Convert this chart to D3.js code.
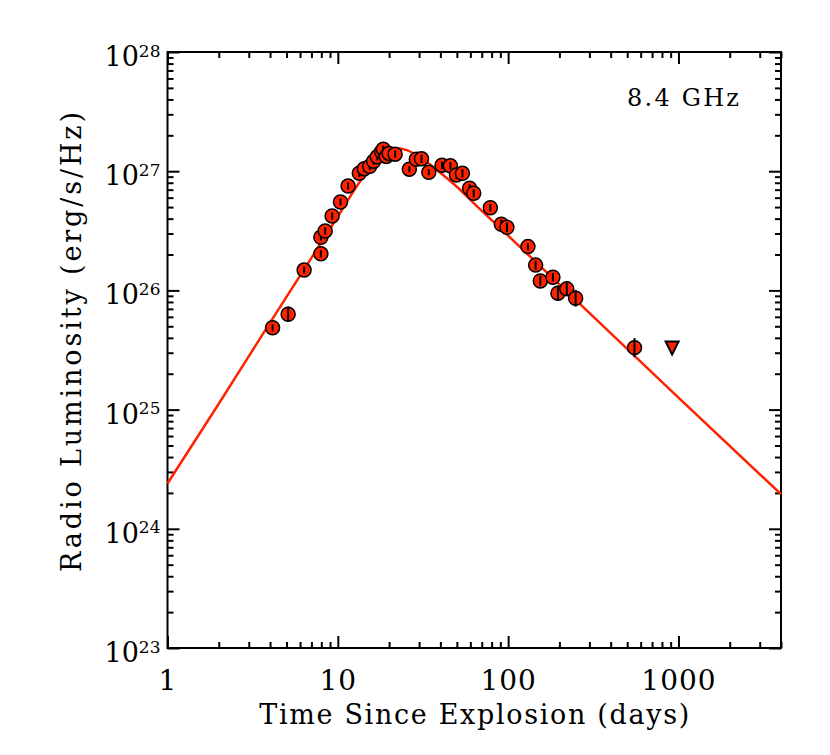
<!DOCTYPE html>
<html>
<head>
<meta charset="utf-8">
<script src="https://cdn.jsdelivr.net/npm/d3@7"></script>
<style>
  body { margin: 0; background: #fff; }
  text { font-family: "DejaVu Serif", serif; fill: #000; }
</style>
</head>
<body>
<div id="chart"></div>
<script>
// observations at 8.4 GHz (days since explosion, erg/s/Hz, error in dex)
var obsDays = [4.14, 5.11, 6.34, 7.95, 7.95, 8.43, 9.26, 10.37, 11.49, 13.37,
  14.30, 15.40, 16.22, 17.05, 18.04, 18.49, 19.25, 20.0, 21.7, 26.3,
  28.9, 31.0, 34.2, 40.9, 45.8, 49.7, 53.9, 59.4, 62.8, 78.6,
  91.2, 98.4, 130.7, 145, 154.5, 183.2, 196, 221, 249, 552];
var obsLum = [4.86e25, 6.31e25, 1.48e26, 2.03e26, 2.79e26, 3.15e26, 4.21e26, 5.52e26, 7.51e26, 9.61e26,
  1.05e27, 1.10e27, 1.21e27, 1.32e27, 1.46e27, 1.53e27, 1.33e27, 1.41e27, 1.39e27, 1.04e27,
  1.26e27, 1.27e27, 9.79e26, 1.12e27, 1.11e27, 9.3e26, 9.6e26, 7.19e26, 6.53e26, 4.94e26,
  3.59e26, 3.38e26, 2.33e26, 1.63e26, 1.20e26, 1.29e26, 9.46e25, 1.03e26, 8.59e25, 3.31e25];
var obsErr = [0.03, 0.065, 0.03, 0.03, 0.03, 0.03, 0.03, 0.03, 0.03, 0.03,
  0.03, 0.03, 0.03, 0.03, 0.03, 0.03, 0.03, 0.03, 0.03, 0.025,
  0.03, 0.035, 0.025, 0.03, 0.03, 0.035, 0.035, 0.035, 0.035, 0.03,
  0.04, 0.04, 0.03, 0.04, 0.045, 0.035, 0.065, 0.05, 0.07, 0.08];

// upper limit
var limDays = [918];
var limLum = [3.42e25];

// model light curve
var modelDays = [1, 2, 4, 6.3, 10, 12.6, 15.8, 17.8, 20, 22.4, 25.1, 31.6, 39.8, 50, 63, 100, 316, 1000, 4000];
var modelLum = [2.40e24, 1.12e25, 5.37e25, 1.48e26, 4.17e26, 7.08e26, 1.12e27, 1.35e27, 1.48e27, 1.55e27,
  1.51e27, 1.26e27, 9.77e26, 7.41e26, 5.37e26, 2.88e26, 6.03e25, 1.26e25, 1.95e24];

var xMajor = [1, 10, 100, 1000];
var xTickLabels = ["1", "10", "100", "1000"];
var yMajor = [1e23, 1e24, 1e25, 1e26, 1e27, 1e28];
var yTickExps = ["23", "24", "25", "26", "27", "28"];

var svgWidth = 830;
var svgHeight = 755;
var margin = {top: 52, right: 49, bottom: 107, left: 167.5};
var width = svgWidth - margin.left - margin.right;
var height = svgHeight - margin.top - margin.bottom;

var red = "#ff2200";

var svg = d3.select("#chart").append("svg")
  .attr("width", svgWidth)
  .attr("height", svgHeight);

var g = svg.append("g")
  .attr("transform", `translate(${margin.left}, ${margin.top})`);

var x = d3.scaleLog().domain([1, 4000]).range([0, width]);
var y = d3.scaleLog().domain([1e23, 1e28]).range([height, 0]);

var xMinor = x.ticks().filter(d => xMajor.indexOf(d) < 0);
var yMinor = y.ticks().filter(d => yMajor.indexOf(d) < 0);

function drawAxis(axisFn, scale, values, size, tr) {
  var a = g.append("g")
    .attr("transform", tr)
    .call(axisFn(scale).tickValues(values).tickSize(-size).tickFormat(""));
  a.select(".domain").remove();
  a.selectAll(".tick line").attr("stroke", "#000").attr("stroke-width", 2);
  return a;
}

// minor ticks on all four sides
drawAxis(d3.axisBottom, x, xMinor, 6, `translate(0,${height})`);
drawAxis(d3.axisTop, x, xMinor, 6, "translate(0,0)");
drawAxis(d3.axisLeft, y, yMinor, 6, "translate(0,0)");
drawAxis(d3.axisRight, y, yMinor, 6, `translate(${width},0)`);
drawAxis(d3.axisTop, x, xMajor, 12, "translate(0,0)");
drawAxis(d3.axisRight, y, yMajor, 12, `translate(${width},0)`);

// labelled axes
var bottom = g.append("g")
  .attr("transform", `translate(0,${height})`)
  .call(d3.axisBottom(x).tickValues(xMajor).tickSize(-12).tickPadding(22)
    .tickFormat((d, i) => xTickLabels[i]));
bottom.select(".domain").remove();
bottom.selectAll(".tick line").attr("stroke", "#000").attr("stroke-width", 2);
bottom.selectAll(".tick text")
  .attr("font-size", 28)
  .attr("font-family", "DejaVu Serif")
  .attr("fill", "#000")
  .style("letter-spacing", "1px");

var left = g.append("g")
  .call(d3.axisLeft(y).tickValues(yMajor).tickSize(-12).tickPadding(7).tickFormat(""));
left.select(".domain").remove();
left.selectAll(".tick line").attr("stroke", "#000").attr("stroke-width", 2);
left.selectAll(".tick text").each(function(d, i) {
  var t = d3.select(this)
    .attr("font-size", 27)
    .attr("font-family", "DejaVu Serif")
    .attr("fill", "#000")
    .attr("dy", "0.5em");
  t.append("tspan").text("10");
  t.append("tspan").attr("dy", "-0.55em").attr("font-size", 17).text(yTickExps[i]);
});

// frame
g.append("rect")
  .attr("width", width)
  .attr("height", height)
  .attr("fill", "none")
  .attr("stroke", "#000")
  .attr("stroke-width", 2);

// model curve
var line = d3.line()
  .x(d => x(d[0]))
  .y(d => y(d[1]))
  .curve(d3.curveMonotoneX);

g.append("path")
  .datum(modelDays.map((d, i) => [d, modelLum[i]]))
  .attr("d", line)
  .attr("fill", "none")
  .attr("stroke", red)
  .attr("stroke-width", 2.5);

// data points with error bars
var pts = g.selectAll(".pt")
  .data(obsDays.map((d, i) => ({t: d, L: obsLum[i], e: obsErr[i]})))
  .enter()
  .append("g")
  .attr("class", "pt");

pts.append("circle")
  .attr("cx", d => x(d.t))
  .attr("cy", d => y(d.L))
  .attr("r", 7)
  .attr("fill", red)
  .attr("stroke", "#000")
  .attr("stroke-width", 1.5);

pts.append("line")
  .attr("x1", d => x(d.t))
  .attr("x2", d => x(d.t))
  .attr("y1", d => y(d.L * Math.pow(10, d.e)))
  .attr("y2", d => y(d.L / Math.pow(10, d.e)))
  .attr("stroke", "#000")
  .attr("stroke-width", 2);

// upper limit triangle
g.selectAll(".lim")
  .data(limDays.map((d, i) => ({t: d, L: limLum[i]})))
  .enter()
  .append("path")
  .attr("class", "lim")
  .attr("transform", d => `translate(${x(d.t)},${y(d.L)})`)
  .attr("d", "M-6.5,-4.5L6.5,-4.5L0,8.5Z")
  .attr("fill", red)
  .attr("stroke", "#000")
  .attr("stroke-width", 2)
  .attr("stroke-linejoin", "miter");

// labels
svg.append("text")
  .attr("x", 627)
  .attr("y", 106)
  .attr("font-size", 24)
  .attr("textLength", 112)
  .attr("lengthAdjust", "spacing")
  .text("8.4 GHz");

svg.append("text")
  .attr("x", margin.left + width / 2)
  .attr("y", 724)
  .attr("text-anchor", "middle")
  .attr("font-size", 27)
  .attr("textLength", 430)
  .attr("lengthAdjust", "spacing")
  .text("Time Since Explosion (days)");

svg.append("text")
  .attr("transform", "translate(81,342) rotate(-90)")
  .attr("text-anchor", "middle")
  .attr("font-size", 27)
  .attr("textLength", 460)
  .attr("lengthAdjust", "spacing")
  .text("Radio Luminosity (erg/s/Hz)");
</script>
</body>
</html>
